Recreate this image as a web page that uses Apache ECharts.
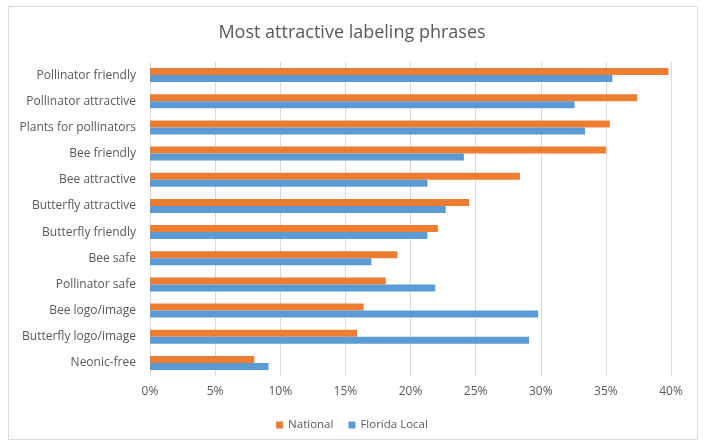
<!DOCTYPE html>
<html><head><meta charset="utf-8">
<script src="https://cdn.jsdelivr.net/npm/echarts@6/dist/echarts.min.js"></script>
<style>html,body{margin:0;padding:0;background:#fff}#c{width:704px;height:441px}</style>
</head><body><div id="c"></div>
<script>
const categories = ["Pollinator friendly","Pollinator attractive","Plants for pollinators","Bee friendly","Bee attractive","Butterfly attractive","Butterfly friendly","Bee safe","Pollinator safe","Bee logo/image","Butterfly logo/image","Neonic-free"];
const national = [39.8,37.4,35.3,35.0,28.4,24.5,22.1,19.0,18.1,16.4,15.9,8.0];
const florida = [35.5,32.6,33.4,24.1,21.3,22.7,21.3,17.0,21.9,29.8,29.1,9.1];
const xTicks = [0,5,10,15,20,25,30,35,40];

const chart = echarts.init(document.getElementById('c'), null, {renderer:'canvas'});
const font = '"Open Sans", "Noto Sans", sans-serif';
chart.setOption({
  animation:false,
  textStyle:{fontFamily:font},
  graphic:[{type:'rect',shape:{x:8.5,y:6.5,width:689,height:433},style:{fill:'none',stroke:'#d9d9d9',lineWidth:1},silent:true}],
  title:{text:'Most attractive labeling phrases',left:'center',top:19,textStyle:{fontFamily:font,fontSize:18,fontWeight:'normal',color:'#595959'}},
  legend:{bottom:5,left:'center',itemWidth:7,itemHeight:7,itemGap:15,icon:'rect',textStyle:{fontFamily:font,fontSize:11.5,color:'#595959'},data:['National','Florida Local']},
  grid:{left:150,right:33,top:62,bottom:65,containLabel:false},
  xAxis:{type:'value',min:xTicks[0],max:xTicks[xTicks.length-1],interval:5,
    axisLabel:{formatter:v=>v+'%',color:'#595959',fontSize:12,margin:10,fontFamily:font},
    axisLine:{show:false},axisTick:{show:false},
    splitLine:{lineStyle:{color:'#d9d9d9',width:1}}},
  yAxis:{type:'category',data:categories,inverse:true,
    axisLabel:{color:'#595959',fontSize:12,margin:14,fontFamily:font},
    axisLine:{show:false},axisTick:{show:false}},
  series:[
    {name:'National',type:'bar',data:national,barWidth:7,barGap:'0%',itemStyle:{color:'#ED7D31'}},
    {name:'Florida Local',type:'bar',data:florida,barWidth:7,barGap:'0%',itemStyle:{color:'#5B9BD5'}}
  ]
});
</script></body></html>
